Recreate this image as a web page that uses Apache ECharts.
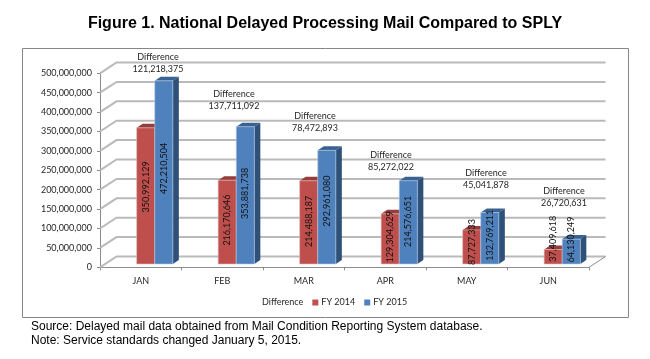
<!DOCTYPE html>
<html>
<head>
<meta charset="utf-8">
<title>Figure 1</title>
<style>
  html, body { margin: 0; padding: 0; background: #fff; }
  #chart { width: 650px; height: 359px; }
</style>
<script src="https://cdn.jsdelivr.net/npm/echarts@6/dist/echarts.min.js"></script>
</head>
<body>
<div id="chart"></div>
<script>
const months = ['JAN', 'FEB', 'MAR', 'APR', 'MAY', 'JUN'];
const fy2014 = [350992129, 216170646, 214488187, 129304629, 87727333, 37409618];
const fy2015 = [472210504, 353881738, 292961080, 214576651, 132769211, 64130249];
const differences = [121218375, 137711092, 78472893, 85272022, 45041878, 26720631];
const yTicks = [0, 50000000, 100000000, 150000000, 200000000, 250000000, 300000000, 350000000, 400000000, 450000000, 500000000];

// hand placement of the labels, the source chart nudged them one by one
const nudge2014 = [-9, -2, -1, -2, -5, -18];
const nudge2015 = [-4, -2, -6, -1, -3, -12];
const diffCenterX = [158, 234, 315, 391, 486, 564];
const diffCenterY = [63, 100, 122, 161, 179, 197];

const fmt = (n) => n.toLocaleString('en-US');
const labelFont = '9px Lato';
const textColor = '#262626';

// fake 3d
const depthX = 16.5;
const depthY = -10.8;
const barDepthX = 6;
const barDepthY = -4;
const barShiftX = 14;
const barShiftY = -3.3;

function barItem(side, values, nudges, colors) {
  return (params, api) => {
    const i = params.dataIndex;
    const cat = api.value(0);
    const base = api.coord([cat, 0]);
    const top = api.coord([cat, values[i]]);
    const w = api.size([1, 0])[0] * 0.222;
    const x0 = base[0] + barShiftX + (side < 0 ? -w : 0);
    const x1 = x0 + w;
    const y0 = base[1] + barShiftY;
    const y1 = top[1] + barShiftY;
    return {
      type: 'group',
      children: [
        {
          type: 'polygon',
          shape: { points: [[x1, y1], [x1 + barDepthX, y1 + barDepthY], [x1 + barDepthX, y0 + barDepthY], [x1, y0]] },
          style: { fill: colors.side }
        },
        {
          type: 'polygon',
          shape: { points: [[x0, y1], [x0 + barDepthX, y1 + barDepthY], [x1 + barDepthX, y1 + barDepthY], [x1, y1]] },
          style: { fill: colors.top }
        },
        {
          type: 'rect',
          shape: { x: x0, y: y1, width: w, height: y0 - y1 },
          style: { fill: colors.face, stroke: colors.edge, lineWidth: 0.6 }
        },
        {
          type: 'text',
          x: (x0 + x1) / 2,
          y: (y0 + y1) / 2 + nudges[i],
          rotation: Math.PI / 2,
          style: {
            text: fmt(values[i]),
            font: labelFont,
            fill: '#111',
            textAlign: 'center',
            textVerticalAlign: 'middle'
          }
        }
      ]
    };
  };
}

// back wall and side wall lines
function wallItem(params, api) {
  const y = api.coord([0, api.value(0)])[1];
  const xStart = api.coord([0, 0])[0] - api.size([1, 0])[0] / 2;
  const xEnd = xStart + api.size([1, 0])[0] * months.length;
  const isFloor = api.value(0) === 0;
  const children = [{
    type: 'polyline',
    shape: { points: [[xStart, y], [xStart + depthX, y + depthY], [xEnd + depthX, y + depthY]] },
    style: { stroke: '#bababa', lineWidth: 2, fill: null }
  }];
  if (isFloor) {
    children.push({
      type: 'line',
      shape: { x1: xEnd, y1: y, x2: xEnd + depthX, y2: y + depthY },
      style: { stroke: '#8c8c8c', lineWidth: 1 }
    });
  }
  return { type: 'group', children };
}

function diffItem(params, api) {
  const i = params.dataIndex;
  return {
    type: 'text',
    x: diffCenterX[i],
    y: diffCenterY[i],
    style: {
      text: 'Difference\n' + fmt(differences[i]),
      font: labelFont,
      lineHeight: 12,
      fill: textColor,
      textAlign: 'center',
      textVerticalAlign: 'middle'
    }
  };
}

const chart = echarts.init(document.getElementById('chart'));

chart.setOption({
  animation: false,
  backgroundColor: '#fff',
  title: [
    {
      text: 'Figure 1. National Delayed Processing Mail Compared to SPLY',
      left: 'center',
      top: 11,
      textStyle: { fontFamily: 'Liberation Sans', fontSize: 16, fontWeight: 'bold', color: '#000' }
    },
    {
      text: 'Source: Delayed mail data obtained from Mail Condition Reporting System database.',
      left: 26,
      top: 316,
      textStyle: { fontFamily: 'Liberation Sans', fontSize: 12, fontWeight: 'normal', color: '#000' }
    },
    {
      text: 'Note: Service standards changed January 5, 2015.',
      left: 26,
      top: 330,
      textStyle: { fontFamily: 'Liberation Sans', fontSize: 12, fontWeight: 'normal', color: '#000' }
    }
  ],
  graphic: [{
    type: 'rect',
    z: -10,
    shape: { x: 22.5, y: 48.5, width: 606, height: 269 },
    style: { fill: '#fff', stroke: '#868686', lineWidth: 1 }
  }],
  grid: { left: 100, right: 61, top: 73.3, height: 194 },
  legend: {
    left: 248,
    top: 293,
    itemWidth: 6,
    itemHeight: 6,
    itemGap: 9,
    textStyle: { fontFamily: 'Lato', fontSize: 9, color: textColor, padding: [0, 0, 0, -2] },
    data: [
      { name: 'Difference', icon: 'none' },
      { name: 'FY 2014', icon: 'rect' },
      { name: 'FY 2015', icon: 'rect' }
    ]
  },
  xAxis: {
    type: 'category',
    data: months,
    axisLine: { lineStyle: { color: '#8c8c8c' } },
    axisTick: { show: true, alignWithLabel: false, length: 3, lineStyle: { color: '#8c8c8c' } },
    axisLabel: { fontFamily: 'Lato', fontSize: 9, color: textColor, margin: 9 },
    splitLine: { show: false }
  },
  yAxis: {
    type: 'value',
    min: 0,
    max: 500000000,
    interval: 50000000,
    axisLine: { show: true, lineStyle: { color: '#8c8c8c' } },
    axisTick: { show: true, length: 3, lineStyle: { color: '#8c8c8c' } },
    axisLabel: { fontFamily: 'Lato', fontSize: 9, color: textColor, margin: 8, formatter: (v) => fmt(v) },
    splitLine: { show: false }
  },
  series: [
    {
      name: 'walls',
      type: 'custom',
      z: 1,
      silent: true,
      data: yTicks.map((v) => [v]),
      encode: { y: 0 },
      renderItem: wallItem
    },
    {
      name: 'FY 2014',
      type: 'custom',
      z: 2,
      itemStyle: { color: '#C0504D' },
      data: months.map((m, i) => [i, fy2014[i]]),
      encode: { x: 0, y: 1 },
      renderItem: barItem(-1, fy2014, nudge2014, { face: '#BE4F4C', side: '#8E3A38', top: '#953D3A', edge: '#e3bcbb' })
    },
    {
      name: 'FY 2015',
      type: 'custom',
      z: 3,
      itemStyle: { color: '#4F81BD' },
      data: months.map((m, i) => [i, fy2015[i]]),
      encode: { x: 0, y: 1 },
      renderItem: barItem(1, fy2015, nudge2015, { face: '#4F81BD', side: '#2F5179', top: '#396290', edge: '#b5cbe5' })
    },
    {
      name: 'Difference',
      type: 'custom',
      z: 4,
      itemStyle: { color: 'transparent' },
      data: months.map((m, i) => [i, differences[i]]),
      encode: { x: 0, y: 1 },
      renderItem: diffItem
    }
  ]
});
</script>
</body>
</html>
